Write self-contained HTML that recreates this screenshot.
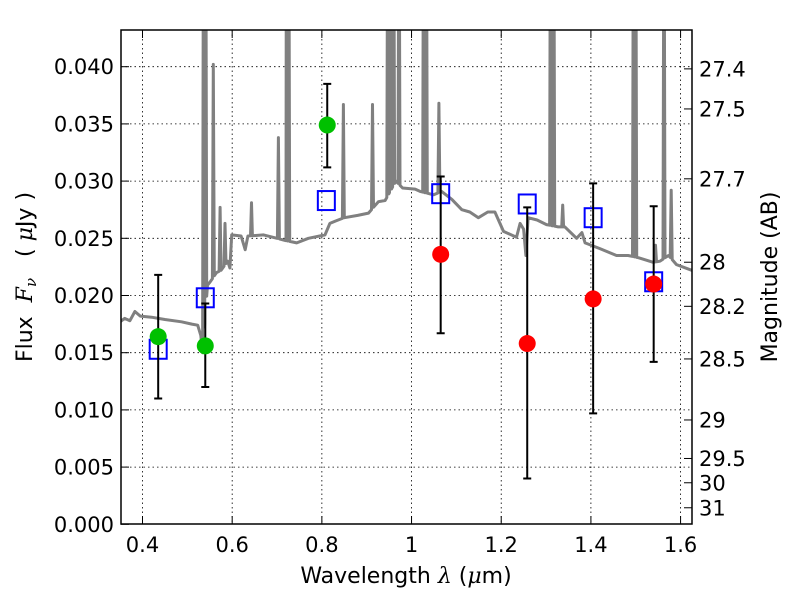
<!DOCTYPE html>
<html><head><meta charset="utf-8">
<style>
html,body{margin:0;padding:0;background:#fff;}
svg{display:block;font-family:"DejaVu Sans","Liberation Sans",sans-serif;}
</style></head>
<body>
<svg id="chart" width="800" height="600" viewBox="0 0 800 600">
<rect x="0" y="0" width="800" height="600" fill="#fff"/>
<defs><clipPath id="plotclip"><rect x="121" y="30" width="571" height="494"/></clipPath></defs>
<g id="grid"></g>
<g id="spec" clip-path="url(#plotclip)"></g>
<g id="marks"></g>
<rect x="121" y="30" width="571" height="494" fill="none" stroke="#000" stroke-width="1.5"/>
<g id="axes"></g>
<text x="406" y="583" font-size="22" text-anchor="middle">Wavelength  <tspan font-style="italic" font-family="DejaVu Serif, serif">λ</tspan> (<tspan font-style="italic" font-family="DejaVu Serif, serif">μ</tspan>m)</text>
<text transform="translate(32,277) rotate(-90)" font-size="22" text-anchor="middle" xml:space="preserve">Flux  <tspan font-style="italic" font-family="DejaVu Serif, serif">F<tspan font-size="15" dy="4">ν</tspan></tspan><tspan dy="-4">   ( </tspan><tspan font-style="italic" font-family="DejaVu Serif, serif">μ</tspan>Jy )</text>
<text transform="translate(777,277) rotate(-90)" font-size="22" text-anchor="middle">Magnitude (AB)</text>
</svg>
<script>
const xTicks = [0.4,0.6,0.8,1.0,1.2,1.4,1.6];
const xTickLabels = ["0.4","0.6","0.8","1","1.2","1.4","1.6"];
const yTicks = [0,0.005,0.01,0.015,0.02,0.025,0.03,0.035,0.04];
const yTickLabels = ["0.000","0.005","0.010","0.015","0.020","0.025","0.030","0.035","0.040"];
const magTicks = [27.4,27.5,27.7,28,28.2,28.5,29,29.5,30,31];
const magTickLabels = ["27.4","27.5","27.7","28","28.2","28.5","29","29.5","30","31"];
const greenLam = [0.435,0.54,0.812];
const greenFlux = [0.0164,0.0156,0.0349];
const greenLo = [0.0110,0.0120,0.0312];
const greenHi = [0.0218,0.0193,0.0385];
const redLam = [1.065,1.258,1.405,1.54];
const redFlux = [0.0236,0.0158,0.0197,0.0210];
const redLo = [0.0167,0.0040,0.0097,0.0142];
const redHi = [0.0304,0.0277,0.0298,0.0278];
const modelLam = [0.435,0.54,0.81,1.065,1.258,1.405,1.54];
const modelFlux = [0.0153,0.0198,0.0283,0.0289,0.0280,0.0268,0.0212];
const contLam = [0.35,0.36,0.372,0.383,0.395,0.42,0.45,0.487,0.51,0.523,0.530,0.534,0.545,0.551,0.565,0.575,0.59,0.595,0.599,0.62,0.629,0.635,0.67,0.70,0.72,0.744,0.77,0.807,0.818,0.83,0.85,0.88,0.904,0.926,0.941,0.965,0.98,1.008,1.019,1.049,1.067,1.09,1.112,1.13,1.149,1.17,1.186,1.205,1.234,1.242,1.25,1.255,1.26,1.28,1.301,1.327,1.342,1.368,1.38,1.387,1.42,1.457,1.483,1.506,1.539,1.554,1.573,1.591,1.625,1.63];
const contFlux = [0.0177,0.0180,0.0178,0.0186,0.0182,0.0181,0.0179,0.0177,0.0175,0.0174,0.0165,0.0150,0.0209,0.0212,0.0220,0.0222,0.0230,0.0224,0.0253,0.0252,0.0240,0.0252,0.0253,0.0250,0.0248,0.0246,0.0250,0.0253,0.0263,0.0265,0.0268,0.0270,0.0272,0.0282,0.0283,0.0300,0.0294,0.0293,0.0291,0.0288,0.0291,0.0284,0.0275,0.0273,0.0268,0.0273,0.0273,0.0256,0.0251,0.0263,0.0258,0.0235,0.0268,0.0266,0.0262,0.0260,0.0260,0.0250,0.0255,0.0246,0.0241,0.0235,0.0235,0.0233,0.0229,0.0230,0.0235,0.0227,0.0222,0.0222];
const spikeLam = [0.536,0.541,0.558,0.573,0.584,0.643,0.703,0.721,0.726,0.848,0.913,0.947,0.953,0.960,0.972,1.027,1.033,1.061,1.310,1.317,1.337,1.495,1.500,1.544,1.563,1.579];
const spikePeak = [0.060,0.060,0.0402,0.0277,0.0263,0.0281,0.0338,0.060,0.060,0.0367,0.0367,0.060,0.060,0.060,0.060,0.060,0.060,0.0368,0.060,0.060,0.0279,0.060,0.060,0.0244,0.060,0.0292];

const NS="http://www.w3.org/2000/svg";
const X0=142.5, XS=448.4;
const Y0=524.3, YS=57.2/0.005;
function sx(l){return X0+(l-0.4)*XS;}
function sy(f){return Y0-f*YS;}
function mk(tag,attrs,parent){const e=document.createElementNS(NS,tag);for(const k in attrs)e.setAttribute(k,attrs[k]);parent.appendChild(e);return e;}
function cont(l){for(let i=1;i<contLam.length;i++){if(l<=contLam[i]){const t=(l-contLam[i-1])/(contLam[i]-contLam[i-1]);return contFlux[i-1]+t*(contFlux[i]-contFlux[i-1]);}}return contFlux[contFlux.length-1];}
const grid=document.getElementById('grid'),axes=document.getElementById('axes'),spec=document.getElementById('spec'),marks=document.getElementById('marks');

xTicks.forEach((t,i)=>{
  const x=sx(t);
  const g=mk('line',{x1:x,x2:x,y1:30,y2:524,stroke:'#000','stroke-width':0.8,'stroke-dasharray':'1.5,3'},grid);
  
  
  const tk=mk('line',{x1:x,x2:x,y1:524,y2:516,stroke:'#000','stroke-width':1},axes);
  
  
  const tk2=mk('line',{x1:x,x2:x,y1:30,y2:38,stroke:'#000','stroke-width':1},axes);
  
  
  const lb=mk('text',{x:x,y:552,'font-size':21,'text-anchor':'middle'},axes);
  lb.textContent=xTickLabels[i];
  
  
});
yTicks.forEach((t,i)=>{
  const y=sy(t);
  if(t>0){
    const g=mk('line',{x1:121,x2:692,y1:y,y2:y,stroke:'#000','stroke-width':0.8,'stroke-dasharray':'1.5,3'},grid);
    
    
  }
  const tk=mk('line',{x1:121,x2:129,y1:y,y2:y,stroke:'#000','stroke-width':1},axes);
  
  
  const lb=mk('text',{x:114,y:y+7.5,'font-size':21,'text-anchor':'end'},axes);
  lb.textContent=yTickLabels[i];
  
  
});
magTicks.forEach((m,i)=>{
  const y=sy(Math.pow(10,(23.9-m)/2.5));
  const tk=mk('line',{x1:684,x2:692,y1:y,y2:y,stroke:'#000','stroke-width':1},axes);
  
  
  const lb=mk('text',{x:699,y:y+7.5,'font-size':21},axes);
  lb.textContent=magTickLabels[i];
  
  
});

const pts=[];
contLam.forEach((l,i)=>pts.push([l,contFlux[i]]));
spikeLam.forEach((l,i)=>{const hw=0.0022;pts.push([l-hw,cont(l-hw)]);pts.push([l,spikePeak[i]]);pts.push([l+hw,cont(l+hw)]);});
pts.sort((a,b)=>a[0]-b[0]);
let d='';
pts.forEach((p,i)=>{d+=(i?'L':'M')+sx(p[0]).toFixed(1)+','+sy(p[1]).toFixed(1);});
const p=mk('path',{d:d,fill:'none',stroke:'#808080','stroke-width':3,'stroke-linejoin':'round'},spec);



function errbar(l,lo,hi){
  const x=sx(l);
  const e=mk('path',{d:`M${x},${sy(lo)}V${sy(hi)}M${x-4},${sy(lo)}H${x+4}M${x-4},${sy(hi)}H${x+4}`,stroke:'#000','stroke-width':2,fill:'none'},marks);
  
  
}
modelLam.forEach((l,i)=>{
  const r=mk('rect',{x:sx(l)-8.5,y:sy(modelFlux[i])-9.5,width:17,height:19,fill:'none',stroke:'#0000ff','stroke-width':2},marks);
  
  
});
greenLam.forEach((l,i)=>{
  errbar(l,greenLo[i],greenHi[i]);
  const c=mk('circle',{cx:sx(l),cy:sy(greenFlux[i]),r:8.5,fill:'#00c000'},marks);
  
  
});
redLam.forEach((l,i)=>{
  errbar(l,redLo[i],redHi[i]);
  const c=mk('circle',{cx:sx(l),cy:sy(redFlux[i]),r:8.5,fill:'#ff0000'},marks);
  
  
});
</script>
</body></html>
